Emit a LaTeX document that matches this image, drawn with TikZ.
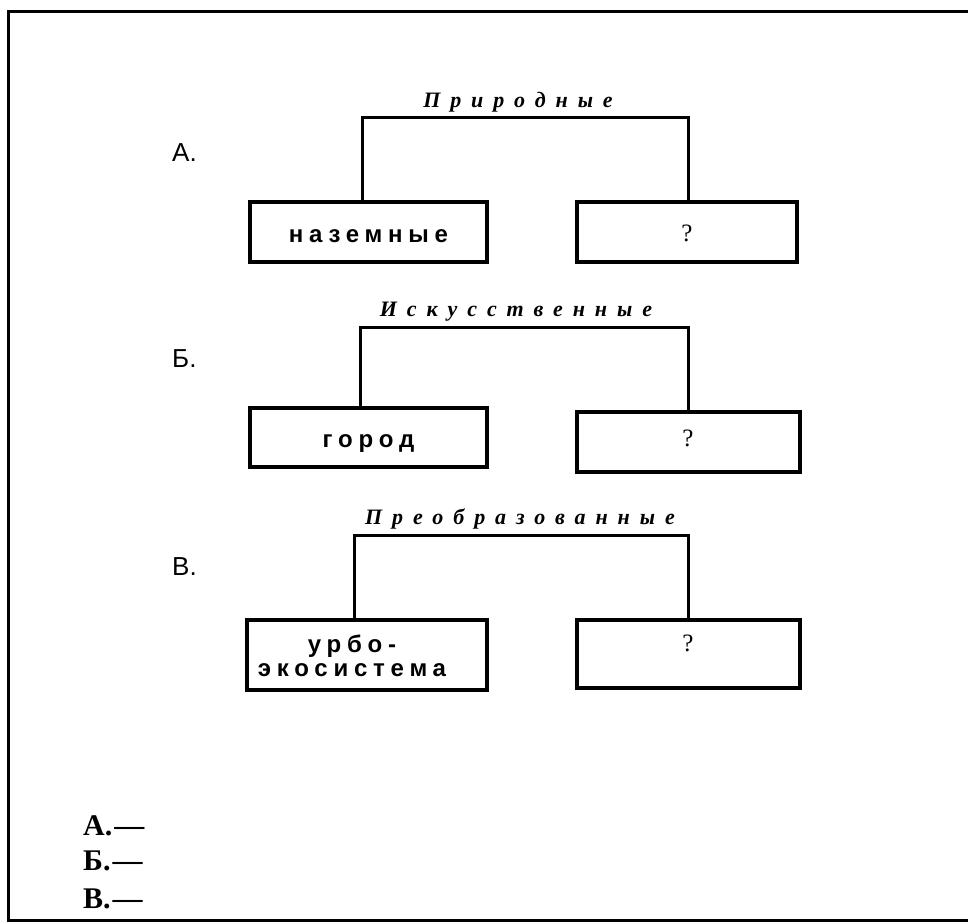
\documentclass[tikz,border=0pt]{standalone}
\usepackage{fontspec}
\setmainfont{Liberation Serif}
\newfontfamily\boxfont{Liberation Sans}[LetterSpace=24]
\newfontfamily\lblfont{Liberation Sans}
\newfontfamily\ttlfont{Liberation Serif}[LetterSpace=45]
\begin{document}
\begin{tikzpicture}[x=1pt,y=-1pt,
  box/.style={draw, line width=3.4pt, inner sep=0pt, text height=20pt, text depth=0pt, font=\boxfont\bfseries\fontsize{24}{28}\selectfont},
  qmark/.style={inner sep=0pt, font=\fontsize{25}{28}\selectfont},
  link/.style={line width=3pt},
  ttl/.style={anchor=base, inner sep=0pt, font=\ttlfont\itshape\bfseries\fontsize{22}{26}\selectfont},
  lbl/.style={anchor=base west, inner sep=0pt, font=\lblfont\fontsize{26}{30}\selectfont},
  ans/.style={anchor=base west, inner sep=0pt, font=\bfseries\fontsize{30}{32}\selectfont}]
\useasboundingbox (0,0) rectangle (968,922);
\fill[white] (0,0) rectangle (968,922);
% frame
\draw[line width=3pt] (968,11) -- (8,11) -- (8,920) -- (968,920);

% ---- A
\node[lbl] (la) at (172,161) {А.};
\node[ttl] (ta) at (518,107) {Природные};
\node[box, minimum width=237pt, minimum height=60pt] (a1) at (368.5,232) {наземные};
\node[box, minimum width=220pt, minimum height=60pt] (a2) at (687,232) {};
\node[qmark] (qa) at (687,233) {?};
\coordinate (aL) at (362,117);
\coordinate (aR) at (688,117);
\draw[link] (a1.north -| aL) -- (aL) -- (aR) -- (a2.north -| aR);

% ---- B
\node[lbl] (lb) at (172,367) {Б.};
\node[ttl] (tb) at (516,316) {Искусственные};
\node[box, minimum width=237pt, minimum height=59pt] (b1) at (368.5,437.5) {город};
\node[box, minimum width=223pt, minimum height=60pt] (b2) at (688.5,442) {};
\node[qmark] (qb) at (688,438) {?};
\coordinate (bL) at (360,327);
\coordinate (bR) at (688,327);
\draw[link] (b1.north -| bL) -- (bL) -- (bR) -- (b2.north -| bR);

% ---- C
\node[lbl] (lc) at (172,575) {В.};
\node[ttl] (tc) at (520,524) {Преобразованные};
\node[box, minimum width=240pt, minimum height=70pt] (c1) at (367,655) {};
\node[inner sep=0pt, align=center, font=\boxfont\bfseries\fontsize{24}{24}\selectfont] (c1t) at (352,656) {урбо-\\экосистема};
\node[box, minimum width=223pt, minimum height=68pt] (c2) at (688.5,654) {};
\node[qmark] (qc) at (688,643) {?};
\coordinate (cL) at (354,535);
\coordinate (cR) at (688,535);
\draw[link] (c1.north -| cL) -- (cL) -- (cR) -- (c2.north -| cR);

% ---- answers
\node[ans] (xa) at (83,835) {А.\kern2pt—};
\node[ans] (xb) at (83,870) {Б.\kern2pt—};
\node[ans] (xc) at (83,908) {В.\kern2pt—};
\end{tikzpicture}
\end{document}
